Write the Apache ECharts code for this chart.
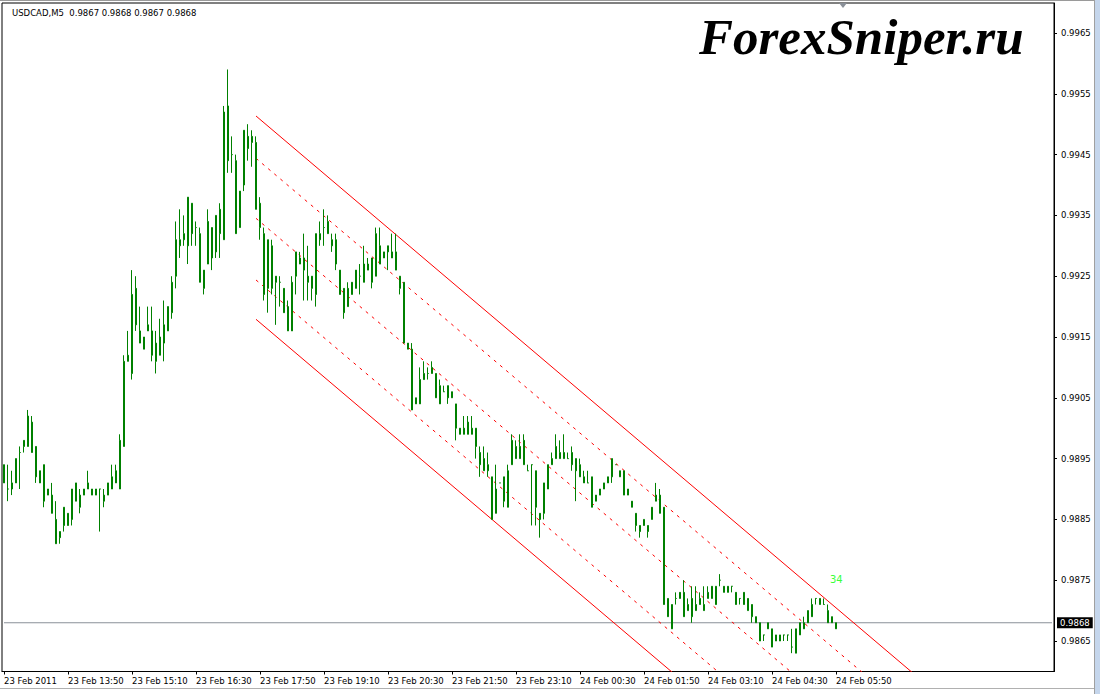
<!DOCTYPE html>
<html>
<head>
<meta charset="utf-8">
<script src="https://cdn.jsdelivr.net/npm/echarts@6/dist/echarts.min.js"></script>
<style>
html,body{margin:0;padding:0;background:#fff;}
#c{width:1100px;height:694px;}
</style>
</head>
<body>
<div id="c"></div>
<script>
// ---- data (USDCAD M5, bars from 23 Feb 12:30) ----
const symbolTitle = 'USDCAD,M5';
const lastBar = [0.9867, 0.9868, 0.9867, 0.9868]; // O H L C shown in header
const lastPrice = 0.9868;
const tickLabels = ['23 Feb 2011','23 Feb 13:50','23 Feb 15:10','23 Feb 16:30','23 Feb 17:50','23 Feb 19:10','23 Feb 20:30','23 Feb 21:50','23 Feb 23:10','24 Feb 00:30','24 Feb 01:50','24 Feb 03:10','24 Feb 04:30','24 Feb 05:50'];
const barsPerLabel = 16;
const yTickValues = [0.9865,0.9875,0.9885,0.9895,0.9905,0.9915,0.9925,0.9935,0.9945,0.9955,0.9965];

const open = [
.9894,.9890,.9890,.9891,.9896,.9897,.9897,.9901,.9897,.9891,
.9894,.9889,.9889,.9885,.9882,.9884,.9886,.9885,.9891,.9889,
.9889,.9890,.9890,.9889,.9890,.9889,.9889,.9890,.9891,.9890,
.9897,.9911,.9909,.9923,.9916,.9915,.9916,.9916,.9911,.9915,
.9914,.9916,.9919,.9925,.9930,.9931,.9930,.9937,.9933,.9932,
.9923,.9927,.9933,.9929,.9932,.9931,.9953,.9945,.9944,.9933,
.9940,.9948,.9947,.9947,.9937,.9932,.9923,.9930,.9924,.9924,
.9923,.9920,.9916,.9925,.9928,.9926,.9925,.9925,.9922,.9931,
.9933,.9932,.9931,.9931,.9926,.9923,.9920,.9922,.9923,.9925,
.9924,.9926,.9928,.9925,.9930,.9928,.9929,.9929,.9929,.9925,
.9924,.9914,.9913,.9904,.9904,.9908,.9909,.9909,.9909,.9904,
.9906,.9907,.9905,.9904,.9900,.9899,.9899,.9900,.9900,.9896,
.9893,.9894,.9892,.9886,.9891,.9892,.9887,.9894,.9897,.9895,
.9898,.9893,.9894,.9893,.9886,.9886,.9890,.9894,.9895,.9896,
.9895,.9895,.9896,.9895,.9894,.9892,.9891,.9892,.9888,.9889,
.9890,.9891,.9892,.9894,.9893,.9893,.9889,.9888,.9886,.9884,
.9884,.9884,.9885,.9888,.9889,.9887,.9872,.9867,.9872,.9872,
.9873,.9870,.9872,.9870,.9871,.9871,.9872,.9872,.9874,.9875,
.9874,.9873,.9874,.9873,.9872,.9871,.9872,.9871,.9869,.9868,
.9866,.9867,.9867,.9865,.9866,.9866,.9866,.9864,.9863,.9866,
.9868,.9868,.9869,.9872,.9872,.9871,.9870,.9869,.9867];
const high = [
.9894,.9894,.9893,.9895,.9897,.9898,.9903,.9902,.9897,.9893,
.9894,.9890,.9891,.9888,.9883,.9887,.9886,.9890,.9891,.9890,
.9890,.9893,.9890,.9890,.9890,.9890,.9891,.9894,.9894,.9899,
.9912,.9916,.9926,.9925,.9920,.9915,.9920,.9920,.9916,.9918,
.9921,.9920,.9925,.9934,.9936,.9935,.9938,.9937,.9934,.9933,
.9926,.9936,.9933,.9935,.9937,.9953,.9959,.9948,.9945,.9939,
.9949,.9950,.9949,.9948,.9938,.9933,.9931,.9931,.9925,.9925,
.9923,.9921,.9925,.9929,.9929,.9932,.9930,.9925,.9932,.9934,
.9936,.9935,.9932,.9932,.9926,.9923,.9924,.9924,.9926,.9927,
.9930,.9928,.9928,.9933,.9933,.9929,.9930,.9932,.9932,.9925,
.9924,.9914,.9914,.9905,.9910,.9911,.9910,.9911,.9909,.9908,
.9907,.9907,.9906,.9904,.9900,.9902,.9902,.9902,.9900,.9897,
.9897,.9896,.9892,.9894,.9891,.9892,.9894,.9899,.9898,.9899,
.9899,.9894,.9894,.9893,.9886,.9891,.9894,.9896,.9899,.9898,
.9899,.9896,.9897,.9895,.9895,.9893,.9893,.9892,.9889,.9890,
.9891,.9892,.9895,.9894,.9893,.9893,.9890,.9888,.9886,.9884,
.9885,.9884,.9887,.9891,.9890,.9887,.9872,.9871,.9873,.9873,
.9875,.9872,.9874,.9874,.9873,.9874,.9874,.9874,.9874,.9876,
.9874,.9874,.9874,.9873,.9872,.9873,.9872,.9871,.9869,.9868,
.9866,.9868,.9867,.9866,.9866,.9866,.9866,.9867,.9867,.9868,
.9869,.9870,.9872,.9872,.9872,.9872,.9871,.9869,.9868];
const low = [
.9891,.9888,.9889,.9891,.9890,.9896,.9897,.9896,.9891,.9891,
.9887,.9889,.9886,.9881,.9881,.9883,.9884,.9884,.9888,.9886,
.9889,.9890,.9889,.9889,.9883,.9887,.9889,.9890,.9891,.9890,
.9897,.9911,.9908,.9916,.9914,.9913,.9916,.9911,.9909,.9912,
.9911,.9916,.9918,.9923,.9928,.9930,.9927,.9930,.9930,.9924,
.9922,.9927,.9926,.9928,.9928,.9931,.9942,.9942,.9932,.9933,
.9939,.9944,.9943,.9936,.9931,.9921,.9919,.9922,.9917,.9920,
.9919,.9916,.9916,.9922,.9927,.9921,.9921,.9921,.9920,.9930,
.9930,.9932,.9929,.9926,.9922,.9918,.9920,.9922,.9923,.9922,
.9924,.9926,.9923,.9925,.9927,.9928,.9926,.9928,.9926,.9922,
.9914,.9913,.9903,.9904,.9904,.9908,.9908,.9909,.9905,.9904,
.9906,.9904,.9905,.9898,.9899,.9899,.9899,.9899,.9895,.9892,
.9893,.9892,.9885,.9886,.9891,.9887,.9887,.9894,.9895,.9895,
.9894,.9893,.9884,.9884,.9882,.9885,.9890,.9894,.9895,.9895,
.9895,.9895,.9893,.9888,.9892,.9891,.9891,.9887,.9888,.9889,
.9890,.9891,.9891,.9894,.9892,.9889,.9889,.9887,.9883,.9882,
.9884,.9882,.9885,.9888,.9886,.9871,.9869,.9867,.9871,.9872,
.9869,.9870,.9868,.9870,.9871,.9870,.9872,.9872,.9871,.9874,
.9873,.9873,.9873,.9871,.9871,.9871,.9870,.9868,.9868,.9865,
.9865,.9867,.9864,.9865,.9865,.9865,.9865,.9863,.9863,.9866,
.9867,.9868,.9869,.9871,.9871,.9871,.9868,.9868,.9867];
const close = [
.9891,.9890,.9891,.9895,.9896,.9898,.9902,.9896,.9892,.9893,
.9888,.9890,.9886,.9881,.9883,.9887,.9884,.9890,.9888,.9887,
.9890,.9891,.9889,.9890,.9890,.9888,.9891,.9892,.9893,.9898,
.9911,.9912,.9922,.9917,.9914,.9913,.9917,.9912,.9914,.9912,
.9917,.9920,.9924,.9931,.9931,.9932,.9938,.9932,.9933,.9924,
.9926,.9934,.9928,.9935,.9936,.9952,.9944,.9945,.9932,.9939,
.9949,.9946,.9948,.9936,.9933,.9922,.9931,.9923,.9925,.9924,
.9919,.9916,.9924,.9929,.9927,.9928,.9924,.9923,.9932,.9932,
.9933,.9934,.9930,.9927,.9922,.9919,.9923,.9924,.9926,.9925,
.9927,.9927,.9924,.9932,.9927,.9929,.9930,.9928,.9926,.9923,
.9914,.9913,.9903,.9905,.9908,.9909,.9909,.9910,.9905,.9907,
.9906,.9905,.9906,.9900,.9899,.9900,.9901,.9899,.9897,.9894,
.9895,.9893,.9885,.9890,.9891,.9888,.9893,.9898,.9895,.9897,
.9894,.9893,.9894,.9887,.9885,.9891,.9894,.9895,.9897,.9895,
.9896,.9895,.9894,.9893,.9892,.9891,.9891,.9887,.9889,.9890,
.9891,.9892,.9895,.9894,.9892,.9889,.9890,.9887,.9884,.9883,
.9885,.9883,.9887,.9889,.9886,.9871,.9869,.9871,.9872,.9873,
.9869,.9871,.9869,.9871,.9872,.9870,.9873,.9874,.9871,.9875,
.9873,.9874,.9874,.9871,.9872,.9873,.9870,.9869,.9868,.9865,
.9866,.9868,.9864,.9866,.9865,.9866,.9866,.9864,.9867,.9868,
.9867,.9870,.9871,.9872,.9871,.9871,.9868,.9868,.9868];

// channel (drawn from bar 63 to bar 262), prices at both ends
const channelStartIndex = 63;
const channelEndIndex = 262;
const channelStartPrices = [0.995135, 0.994439, 0.993452, 0.992438, 0.991791];
const channelEndPrices   = [0.984033, 0.983337, 0.982350, 0.981336, 0.980689];
const channelLabel = '34';
const watermark = 'ForexSniper.ru';
const totalSlots = 263;

// ---- chart ----
const categories = Array.from({length: totalSlots}, (_, i) => String(i));
const candles = open.map((o, i) => [o, close[i], low[i], high[i]]);
const showLabel = (i) => i % barsPerLabel === 0 && (i / barsPerLabel) < tickLabels.length;
const FONT = 'DejaVu Sans';

const channelSeries = channelStartPrices.map((p, k) => ({
  type: 'line',
  silent: true,
  symbol: 'none',
  animation: false,
  clip: true,
  data: [[channelStartIndex, p], [channelEndIndex, channelEndPrices[k]]],
  lineStyle: {
    color: '#ff0000',
    width: 1,
    type: (k === 0 || k === 4) ? 'solid' : [3, 5]
  },
  z: 3
}));

const chart = echarts.init(document.getElementById('c'), null, {renderer: 'svg'});
chart.setOption({
  animation: false,
  backgroundColor: '#ffffff',
  title: [
    {
      text: symbolTitle + '  ' + lastBar.map(v => v.toFixed(4)).join(' '),
      left: 7, top: 3,
      textStyle: {fontFamily: FONT, fontSize: 8.5, fontWeight: 'normal', color: '#000'}
    },
    {
      text: watermark,
      left: 694, top: 6,
      textStyle: {fontFamily: 'Liberation Serif', fontStyle: 'italic', fontWeight: 'bold', fontSize: 51, color: '#000'}
    }
  ],
  grid: {
    left: 2, top: 3, right: 46, bottom: 22.5,
    show: true, borderColor: '#000', borderWidth: 1, backgroundColor: '#fff'
  },
  xAxis: {
    type: 'category',
    data: categories,
    boundaryGap: true,
    axisLine: {show: true, lineStyle: {color: '#000', width: 1}},
    axisTick: {show: true, alignWithLabel: true, interval: showLabel, length: 3, lineStyle: {color: '#000'}},
    axisLabel: {
      show: true, interval: showLabel, align: 'left', margin: 5,
      padding: [0, 0, 0, 0],
      fontFamily: FONT, fontSize: 8.5, color: '#000',
      formatter: (v, i) => tickLabels[i / barsPerLabel] || ''
    },
    splitLine: {show: false}
  },
  yAxis: {
    type: 'value',
    position: 'right',
    min: 0.9859984,
    max: 0.9969934,
    scale: true,
    axisLine: {show: true, lineStyle: {color: '#000', width: 1}},
    axisTick: {show: true, length: 3, customValues: yTickValues, lineStyle: {color: '#000'}},
    axisLabel: {
      show: true, margin: 7, customValues: yTickValues,
      fontFamily: FONT, fontSize: 8.5, color: '#000',
      formatter: v => v.toFixed(4)
    },
    splitLine: {show: false}
  },
  series: [
    {
      type: 'line',
      silent: true,
      symbol: 'none',
      animation: false,
      data: [[0, lastPrice], [totalSlots - 1, lastPrice]],
      lineStyle: {color: '#8a9098', type: 'solid', width: 1},
      endLabel: {
        show: true, distance: 5,
        formatter: () => lastPrice.toFixed(4),
        backgroundColor: '#000', color: '#fff',
        fontFamily: FONT, fontSize: 8.5, padding: [1, 3, 1, 3]
      },
      z: 2
    },
    {
      type: 'candlestick',
      data: candles,
      barWidth: 2,
      silent: true,
      z: 4,
      itemStyle: {color: '#008000', color0: '#008000', borderColor: '#008000', borderColor0: '#008000', borderWidth: 1}
    },
    ...channelSeries
  ],
  graphic: [
    {type: 'rect', shape: {x: 0, y: 0, width: 1100, height: 1}, style: {fill: '#9a9a9a'}, silent: true},
    {type: 'rect', shape: {x: 1094, y: 0, width: 1, height: 694}, style: {fill: '#a0a0a0'}, silent: true},
    {type: 'rect', shape: {x: 1095, y: 0, width: 5, height: 694}, style: {fill: '#c5d6ec'}, silent: true},
    {type: 'rect', shape: {x: 0, y: 688, width: 1094, height: 1}, style: {fill: '#b0b0b0'}, silent: true},
    {type: 'polygon', shape: {points: [[839, 3], [847, 3], [843, 8]]}, style: {fill: '#8a9098'}, silent: true},
    {type: 'text', left: 830, top: 574, silent: true,
     style: {text: channelLabel, fill: '#39ff39', font: '10px "DejaVu Sans"'}}
  ]
});
</script>
</body>
</html>
